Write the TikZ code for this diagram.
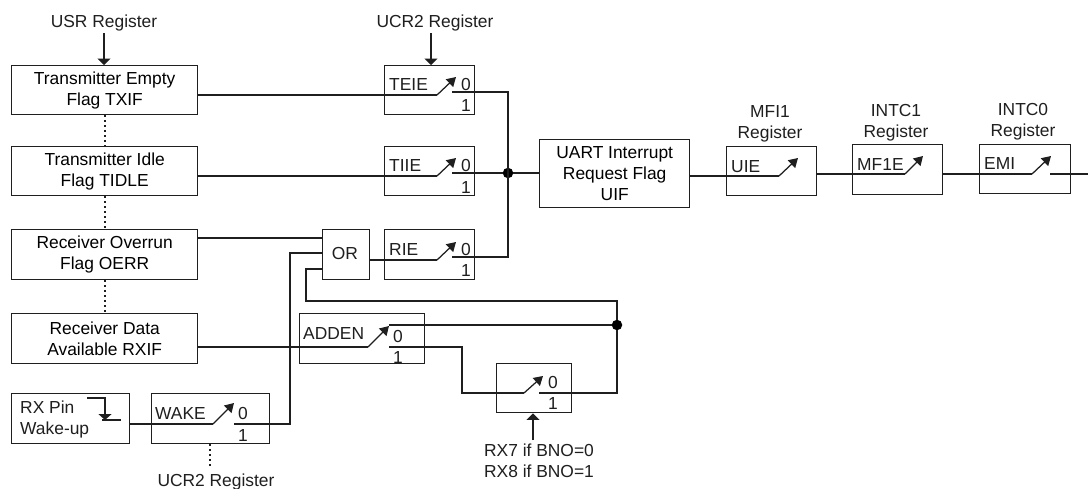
\documentclass[tikz,border=0pt]{standalone}
\usepackage{fontspec}
\setmainfont{Liberation Sans}
\usetikzlibrary{arrows.meta}
\tikzset{
  wire/.style={line width=1.25pt,draw=black!88},
  box/.style={draw=black!88,line width=1.4pt,inner sep=0pt,align=center,anchor=north west},
  txt/.style={inner sep=0pt,anchor=base west,text=black!88},
  ctr/.style={inner sep=0pt,anchor=base,text=black!88,align=center},
  blade/.style={wire,-{Triangle[length=9pt,width=10.5pt]}},
  bigarrow/.style={wire,-{Triangle[length=6.5pt,width=13pt]}},
  dotted wire/.style={line width=2pt,draw=black!88,dash pattern=on 2pt off 3pt},
  jn/.style={circle,fill=black,inner sep=0pt,minimum size=10.5pt},
  x=1pt,y=-1pt
}
\newcommand{\fs}{\fontsize{17.4}{21}\selectfont}
\begin{document}
\begin{tikzpicture}[font=\fs]
\useasboundingbox (0,0) rectangle (1088,488);
\fill[white] (0,0) rectangle (1088,488);
% flag boxes
\node[box,minimum width=186pt,minimum height=49pt] (txif) at (11,65) {Transmitter Empty\\Flag TXIF};
\node[box,minimum width=186pt,minimum height=49pt] (tidle) at (11,146) {Transmitter Idle\\Flag TIDLE};
\node[box,minimum width=186pt,minimum height=50pt] (oerr) at (11,229) {Receiver Overrun\\Flag OERR};
\node[box,minimum width=186pt,minimum height=50pt] (rxif) at (11,313) {Receiver Data\\Available RXIF};
\node[box,minimum width=118pt,minimum height=50pt] (rxpin) at (11,393) {};
\node[box,minimum width=118pt,minimum height=50pt] (wake) at (151,393) {};
% switch boxes
\node[box,minimum width=90pt,minimum height=49pt] (teie) at (384,65) {};
\node[box,minimum width=90pt,minimum height=49pt] (tiie) at (384,146) {};
\node[box,minimum width=90pt,minimum height=50pt] (rie) at (384,229) {};
\node[box,minimum width=47pt,minimum height=50pt] (or) at (322,229) {};
\node[box,minimum width=125pt,minimum height=50pt] (adden) at (299,313) {};
\node[box,minimum width=75pt,minimum height=49pt] (bno) at (496,363) {};
\node[box,minimum width=150pt,minimum height=68pt] (uif) at (539,139) {UART Interrupt\\Request Flag\\UIF};
\node[box,minimum width=90pt,minimum height=49pt] (uie) at (726,146) {};
\node[box,minimum width=90pt,minimum height=50pt] (mf1e) at (852,144) {};
\node[box,minimum width=91pt,minimum height=49pt] (emi) at (979,144) {};
% box labels
\node[txt] (lrx1) at (20,413) {RX Pin};
\node[txt] (lrx2) at (20,434) {Wake-up};
\node[txt] (lwake) at (155,419) {WAKE};
\node[txt] (lteie) at (389,90) {TEIE};
\node[txt] (ltiie) at (389,171) {TIIE};
\node[txt] (lrie) at (389,255) {RIE};
\node[ctr] (lor) at (345,259) {OR};
\node[txt] (ladden) at (303,339) {ADDEN};
\node[txt] (luie) at (731,172) {UIE};
\node[txt] (lmf) at (857,170) {MF1E};
\node[txt] (lemi) at (984,169) {EMI};
% 0 / 1 marks
\foreach \n/\px/\pa/\pb in {a/466/90/111,b/466/171/193,c/466/255/276,d/398/342/363,e/553/388/409,f/243/419/441}{
  \node[ctr] (z\n) at (\px,\pa) {0};
  \node[ctr] (o\n) at (\px,\pb) {1};
}
% external labels
\node[ctr] (usr) at (104,27) {USR Register};
\node[ctr] (ucrt) at (435,27) {UCR2 Register};
\node[ctr] (ucrb) at (216,486) {UCR2 Register};
\node[ctr] (mfi) at (770,138) {MFI1\\Register};
\node[ctr] (intc1) at (896,137) {INTC1\\Register};
\node[ctr] (intc0) at (1023,136) {INTC0\\Register};
\node[ctr] (rx7) at (539,477) {RX7 if BNO=0\\RX8 if BNO=1};
% terminals
\coordinate (usrEnd) at (104,33);
\coordinate (ucrtEnd) at (431,33);
\coordinate (ucrbEnd) at (210,468);
\coordinate (rx7End) at (533,440);
\coordinate (busTop) at (508,92);
\coordinate (busBot) at (508,257);
\coordinate (fbTop) at (617,301);
\coordinate (fbBot) at (617,393);
\coordinate (fbLeft) at (306,301);
\coordinate (exit) at (1088,174);
\node[jn] (j1) at (508,173) {};
\node[jn] (j2) at (617,325) {};
% inputs and blades
\foreach \s/\ix/\iy/\tx/\ty in {a/437/95/456/77,b/437/176/456/158,c/437/260/456/242,d/368/347/389/326,e/524/393/543/376,f/213/424/234/403,g/779/176/798/158,h/905/174/923/156,i/1032/174/1051/156}{
  \coordinate (in\s) at (\ix,\iy);
  \coordinate (tip\s) at (\tx,\ty);
  \draw[blade] (in\s) -- (tip\s);
}
% outer arrows
\draw[bigarrow] (usrEnd) -- (txif.north -| usrEnd);
\draw[bigarrow] (ucrtEnd) -- (teie.north -| ucrtEnd);
\draw[bigarrow] (rx7End) -- (bno.south -| rx7End);
% dotted links
\draw[dotted wire] (txif.south) -- (tidle.north);
\draw[dotted wire] (tidle.south) -- (oerr.north);
\draw[dotted wire] (oerr.south) -- (rxif.north);
\draw[dotted wire] (wake.south -| ucrbEnd) -- (ucrbEnd);
% wires into the switches
\draw[wire] (txif.east |- ina) -- (ina);
\draw[wire] (tidle.east |- inb) -- (inb);
\draw[wire] (or.east |- inc) -- (inc);
\draw[wire] (rxif.east |- ind) -- (ind);
\draw[wire] (rxpin.east |- inf) -- (inf);
\draw[wire] (oerr.east |- 0,238) -- (or.west |- 0,238);
% outputs
\draw[wire] (452,92) -- (busTop) -- (busBot) -- (452,257);
\draw[wire] (452,173) -- (j1) -- (uif.west |- j1);
\draw[wire] (uif.east |- ing) -- (ing);
\draw[wire] (uie.east |- inh) -- (inh);
\draw[wire] (mf1e.east |- ini) -- (ini);
\draw[wire] (1050,174) -- (exit);
\draw[wire] (234,424) -- (290,424) -- (290,253) -- (or.west |- 0,253);
\draw[wire] (or.west |- 0,269) -- (306,269) -- (fbLeft) -- (fbTop) -- (j2) -- (fbBot) -- (539,393);
\draw[wire] (389,325) -- (j2);
\draw[wire] (389,347) -- (462,347) -- (462,393) -- (ine);
% RX pin edge symbol
\draw[wire,-{Triangle[length=6pt,width=13pt]}] (87,398) -- (105,398) -- (105,420);
\draw[wire] (102,420) -- (121,420);
\end{tikzpicture}
\end{document}
